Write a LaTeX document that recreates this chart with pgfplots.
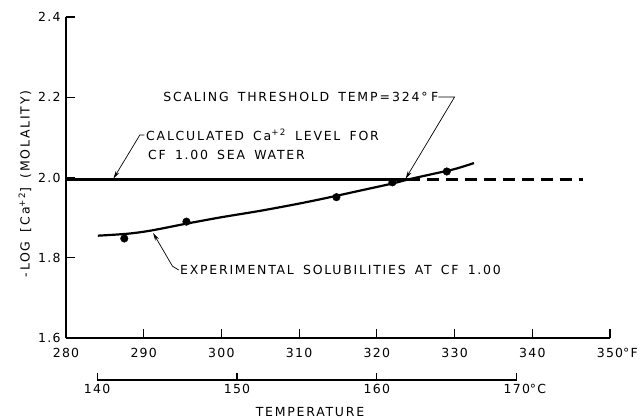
\documentclass[border=0pt]{standalone}
\usepackage{pgfplots}
\pgfplotsset{compat=1.18}
\usepackage{fontspec}
\setmainfont{DejaVu Sans}[LetterSpace=10]
\newfontfamily\ann{DejaVu Sans}[LetterSpace=14, WordSpace=1.6]
\usetikzlibrary{arrows.meta}
\begin{document}
\begin{tikzpicture}[font=\fontsize{12.5}{15}\selectfont]
\useasboundingbox (-66pt,-80pt) rectangle (578pt,338pt);
\begin{axis}[
  at={(0pt,0pt)}, anchor=south west,
  scale only axis, width=544pt, height=321pt,
  xmin=280, xmax=350, ymin=1.6, ymax=2.4,
  axis x line*=bottom, axis y line*=left,
  axis line style={line width=1.5pt, -},
  xtick={280,290,300,310,320,330,340,350},
  xticklabels={280,290,300,310,320,330,340,350\rlap{°F}},
  ytick={1.6,1.8,2.0,2.2,2.4},
  yticklabels={1.6,1.8,2.0,2.2,2.4},
  tick align=inside, major tick length=9pt,
  tick style={line width=1.1pt, black},
  xticklabel style={yshift=-7pt},
  yticklabel style={xshift=-2pt},
  clip=false,
]
% calculated Ca level
\addplot[line width=2.2pt] coordinates {(280,1.995) (324,1.995)};
\addplot[line width=2.2pt, dash pattern=on 12pt off 7pt] coordinates {(324,1.995) (346.5,1.995)};
% experimental curve
\addplot[line width=2.2pt, smooth] coordinates {
 (284.1,1.855) (288,1.860) (291,1.868) (295.5,1.885) (300,1.901) (305,1.917)
 (310,1.935) (314,1.951) (318,1.968) (322,1.985) (324,1.995) (327,2.008)
 (330,2.021) (332.5,2.036)};
\addplot[only marks, mark=*, mark size=3.8pt] coordinates {
 (287.5,1.848) (295.5,1.890) (314.8,1.951) (322.0,1.988) (329.0,2.015)};
% annotations
\node[anchor=west, inner sep=0pt] (st) at (axis cs:292.5,2.2006) {\ann SCALING THRESHOLD TEMP\,=\,324°\;F};
\draw[line width=0.7pt, -{Stealth[length=8pt,width=4pt]}] (st.east) -- (axis cs:330.0,2.2006) -- (axis cs:323.7,1.997);
\node[anchor=west, inner sep=0pt] at (axis cs:290.3,2.1059) {\ann CALCULATED Ca\textsuperscript{+2} LEVEL FOR};
\node[anchor=west, inner sep=0pt] at (axis cs:290.55,2.056) {\ann CF 1.00 SEA WATER};
\draw[line width=0.7pt, -{Stealth[length=8pt,width=4pt]}] (axis cs:290.1,2.1059) -- (axis cs:289.5,2.1059) -- (axis cs:286.1,1.997);
\node[anchor=west, inner sep=0pt] at (axis cs:294.67,1.7695) {\ann EXPERIMENTAL SOLUBILITIES AT CF 1.00};
\draw[line width=0.7pt, -{Stealth[length=8pt,width=4pt]}] (axis cs:294.5,1.7695) -- (axis cs:293.7,1.779) -- (axis cs:291.2,1.862);
\node[rotate=90] at (axis cs:274.72,1.984) {\ann -LOG [\,Ca\textsuperscript{+2}] (MOLALITY)};
\node at (axis cs:311.4,1.4156) {\ann TEMPERATURE};
\end{axis}
\begin{axis}[
  at={(31.1pt,-42pt)}, anchor=south west,
  scale only axis, width=419.7pt, height=10pt,
  xmin=140, xmax=170, ymin=0, ymax=1,
  axis x line*=bottom, hide y axis,
  axis line style={line width=1.5pt, -},
  xtick={140,150,160,170},
  xticklabels={140,150,160,170\rlap{°C}},
  tick align=inside, major tick length=7pt,
  tick style={line width=1.1pt, black},
  xticklabel style={yshift=-1pt},
]
\end{axis}
\end{tikzpicture}
\end{document}
